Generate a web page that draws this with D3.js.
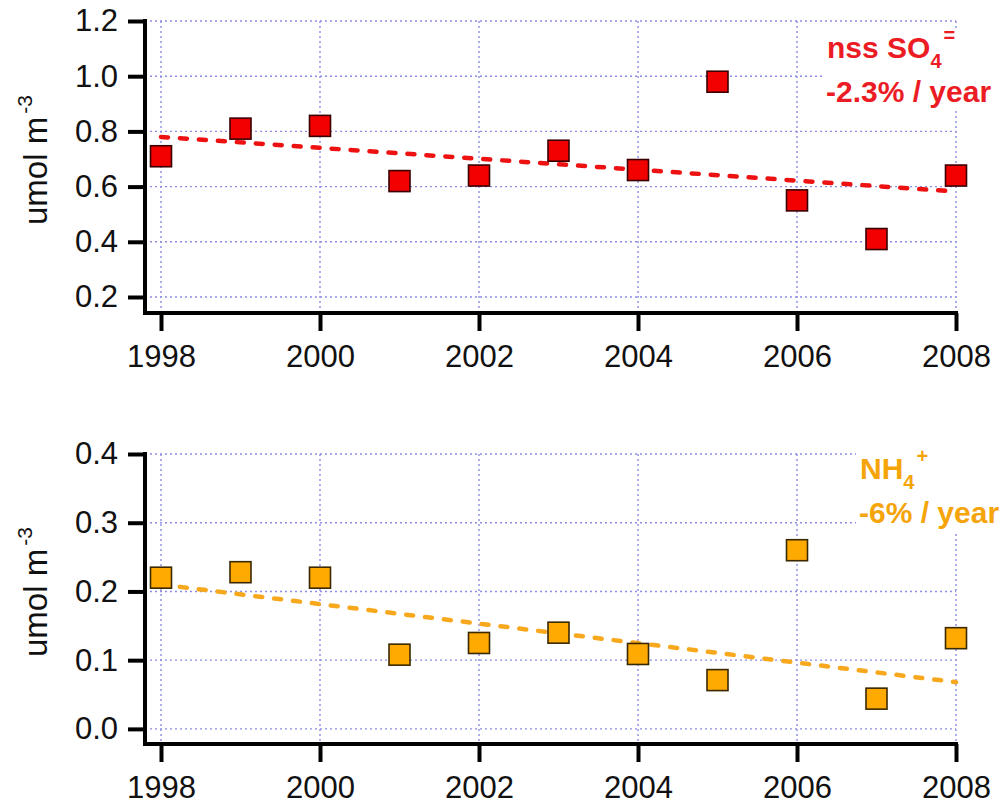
<!DOCTYPE html>
<html>
<head>
<meta charset="utf-8">
<script src="https://cdn.jsdelivr.net/npm/d3@7"></script>
<style>
  html, body { margin: 0; padding: 0; background: #fff; }
  svg { display: block; font-family: "Liberation Sans", Arial, sans-serif; }
</style>
</head>
<body>
<svg id="chart" width="1008" height="806"></svg>
<script>
// Annual mean concentrations, 1998-2008
const years = [1998, 1999, 2000, 2001, 2002, 2003, 2004, 2005, 2006, 2007, 2008];
const so4Values = [0.71, 0.81, 0.82, 0.62, 0.64, 0.73, 0.66, 0.98, 0.55, 0.41, 0.64];
const nh4Values = [0.22, 0.228, 0.22, 0.108, 0.125, 0.14, 0.109, 0.071, 0.26, 0.044, 0.132];

// Fitted trend lines (end points)
const trendYears = [1998, 2008];
const so4Trend = [0.78, 0.582];
const nh4Trend = [0.21, 0.068];

// Axis ticks
const xTicks = [1998, 2000, 2002, 2004, 2006, 2008];
const so4Ticks = [0.2, 0.4, 0.6, 0.8, 1.0, 1.2];
const nh4Ticks = [0.0, 0.1, 0.2, 0.3, 0.4];

const svg = d3.select("#chart");

const panels = [
  {
    values: so4Values, trend: so4Trend, ticks: so4Ticks,
    domain: [0.142, 1.2], top: 21, bottom: 313,
    fill: "#f20000", stroke: "#3a0000", lineColor: "#ee1111", textColor: "#ec1c24",
    label: { main: "nss SO", sub: "4", sup: "=", rate: "-2.3% / year", x: 827, y: 58 }
  },
  {
    values: nh4Values, trend: nh4Trend, ticks: nh4Ticks,
    domain: [-0.022, 0.4], top: 454, bottom: 744,
    fill: "#ffaa00", stroke: "#3a2800", lineColor: "#f7a81c", textColor: "#f5a40a",
    label: { main: "NH", sub: "4", sup: "+", rate: "-6% / year", x: 860, y: 479 }
  }
];

const x = d3.scaleLinear().domain([1998, 2008]).range([161, 956]);
const axisLeft = 145;
const gridColor = "#8c8ce6";

panels.forEach(p => {
  const y = d3.scaleLinear().domain(p.domain).range([p.bottom, p.top]);
  const g = svg.append("g");

  // Dotted grid
  g.append("g").selectAll("line").data(p.ticks).join("line")
    .attr("x1", axisLeft).attr("x2", x(2008))
    .attr("y1", d => y(d)).attr("y2", d => y(d))
    .attr("stroke", gridColor).attr("stroke-width", 1.4)
    .attr("stroke-dasharray", "2,3");
  g.append("g").selectAll("line").data(xTicks).join("line")
    .attr("x1", d => x(d)).attr("x2", d => x(d))
    .attr("y1", y(p.ticks[p.ticks.length - 1])).attr("y2", p.bottom)
    .attr("stroke", gridColor).attr("stroke-width", 1.4)
    .attr("stroke-dasharray", "2,3");

  // Label box covers the grid behind the annotation
  const lb = p.label;
  g.append("rect")
    .attr("x", lb.x - 4).attr("y", lb.y - 28)
    .attr("width", 1008 - lb.x + 4).attr("height", 80)
    .attr("fill", "#fff");

  // Y axis
  const yAxis = d3.axisLeft(y).tickValues(p.ticks).tickFormat(d3.format(".1f"))
    .tickSize(17).tickSizeOuter(0).tickPadding(10);
  const ya = g.append("g").attr("transform", `translate(${axisLeft},0)`).call(yAxis);
  ya.select(".domain").remove();
  ya.selectAll(".tick line").attr("stroke", "#000").attr("stroke-width", 4);
  ya.selectAll(".tick text").attr("font-size", 31).attr("fill", "#111")
    .attr("font-family", "Liberation Sans, Arial, sans-serif");
  g.append("line")
    .attr("x1", axisLeft).attr("x2", axisLeft)
    .attr("y1", y(p.ticks[p.ticks.length - 1]) - 2).attr("y2", p.bottom + 2)
    .attr("stroke", "#000").attr("stroke-width", 4);

  // X axis
  const xAxis = d3.axisBottom(x).tickValues(xTicks).tickFormat(d3.format("d"))
    .tickSize(18).tickSizeOuter(0).tickPadding(14);
  const xa = g.append("g").attr("transform", `translate(0,${p.bottom})`).call(xAxis);
  xa.select(".domain").remove();
  xa.selectAll(".tick line").attr("stroke", "#000").attr("stroke-width", 4);
  xa.selectAll(".tick text").attr("font-size", 31).attr("fill", "#111")
    .attr("font-family", "Liberation Sans, Arial, sans-serif");
  g.append("line")
    .attr("x1", axisLeft - 2).attr("x2", x(2008) + 2)
    .attr("y1", p.bottom).attr("y2", p.bottom)
    .attr("stroke", "#000").attr("stroke-width", 4);

  // Y title: umol m^-3
  const mid = (p.top + p.bottom) / 2;
  const title = g.append("text")
    .attr("transform", `translate(47,${mid + 58}) rotate(-90)`)
    .attr("font-size", 33).attr("fill", "#111");
  title.append("tspan").text("umol m");
  title.append("tspan").attr("font-size", 21).attr("dy", -15).attr("dx", 3).text("-3");

  // Trend line
  const line = d3.line().x(d => x(d[0])).y(d => y(d[1]));
  g.append("path")
    .datum(trendYears.map((yr, i) => [yr, p.trend[i]]))
    .attr("d", line)
    .attr("fill", "none").attr("stroke", p.lineColor)
    .attr("stroke-width", 4.5).attr("stroke-linecap", "round")
    .attr("stroke-dasharray", "7,12");

  // Square markers
  const s = 21;
  g.append("g").selectAll("rect").data(years.map((yr, i) => [yr, p.values[i]])).join("rect")
    .attr("x", d => x(d[0]) - s / 2).attr("y", d => y(d[1]) - s / 2)
    .attr("width", s).attr("height", s)
    .attr("fill", p.fill).attr("stroke", p.stroke).attr("stroke-width", 1.6);

  // Annotation
  const t1 = g.append("text").attr("x", lb.x).attr("y", lb.y)
    .attr("font-size", 30).attr("font-weight", "bold").attr("fill", p.textColor);
  t1.append("tspan").text(lb.main);
  t1.append("tspan").attr("font-size", 20).attr("dy", 10).text(lb.sub);
  t1.append("tspan").attr("font-size", 20).attr("dy", -26).attr("dx", 2).text(lb.sup);
  g.append("text").attr("x", lb.x - 1).attr("y", lb.y + 44)
    .attr("font-size", 30).attr("font-weight", "bold").attr("fill", p.textColor)
    .text(lb.rate);
});
</script>
</body>
</html>
